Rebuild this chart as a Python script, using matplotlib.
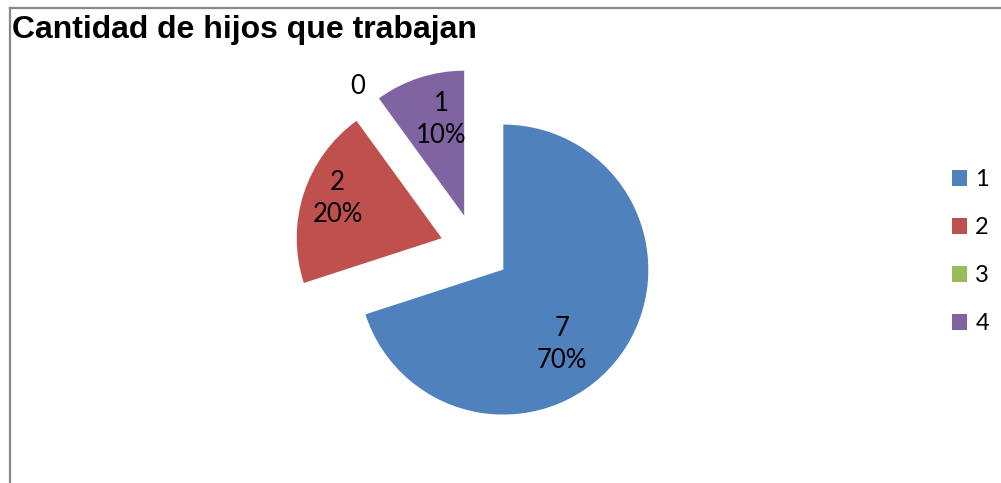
import numpy as np
import matplotlib
matplotlib.use("Agg")
import matplotlib.pyplot as plt
from matplotlib.lines import Line2D

# data
categories = ["1", "2", "3", "4"]
counts = [7, 2, 0, 1]
colors = ["#4F81BD", "#C0504D", "#9BBB59", "#8064A2"]
title = "Cantidad de hijos que trabajan"

W, H = 1001, 483
fig = plt.figure(figsize=(W / 100, H / 100), dpi=100)
ax = fig.add_axes([0, 0, 1, 1])

radius = 145
center = (475, H - 249)
wedges, _ = ax.pie(counts, colors=colors, startangle=90, counterclock=False,
                   radius=radius, center=center, explode=[35] * 4,
                   wedgeprops=dict(linewidth=0))
ax.set_xlim(0, W)
ax.set_ylim(0, H)
ax.set_aspect("equal")
ax.axis("off")

# label placement tweaks (angle shift in degrees, distance as fraction of radius)
lab_shift = [-16, -3, 0, -4.5]
lab_dist = [0.66, 0.77, 1.14, 0.68]
total = sum(counts)
lab_font = ["Lato", "DejaVu Sans"]
for w, n, sh, d in zip(wedges, counts, lab_shift, lab_dist):
    ang = np.deg2rad((w.theta1 + w.theta2) / 2 + sh)
    x = w.center[0] + d * w.r * np.cos(ang)
    y = w.center[1] + d * w.r * np.sin(ang)
    txt = f"{n}" if n == 0 else f"{n}\n{n / total:.0%}"
    ax.text(x, y, txt, ha="center", va="center", fontsize=18.5,
            family=lab_font, linespacing=1.35)

# title
fig.text(12 / W, 1 - 38 / H, title, fontsize=23, fontweight="bold",
         family="Liberation Sans", ha="left", va="baseline")

# frame lines (left and top)
fig.add_artist(Line2D([10 / W, 10 / W], [0, 1 - 8 / H], color="#888888",
                      lw=1.6, transform=fig.transFigure))
fig.add_artist(Line2D([10 / W, 1], [1 - 8 / H, 1 - 8 / H], color="#888888",
                      lw=1.6, transform=fig.transFigure))

handles = [plt.Rectangle((0, 0), 1, 1, fc=c, lw=0) for c in colors]
leg = fig.legend(handles, categories, loc="upper left",
                 bbox_to_anchor=(952 / W, 1 - 169 / H), frameon=False,
                 prop=dict(family=lab_font, size=17), handlelength=0.64,
                 handleheight=0.64, handletextpad=0.35, labelspacing=1.15,
                 borderpad=0, borderaxespad=0)

fig.savefig("out.png", dpi=100)
